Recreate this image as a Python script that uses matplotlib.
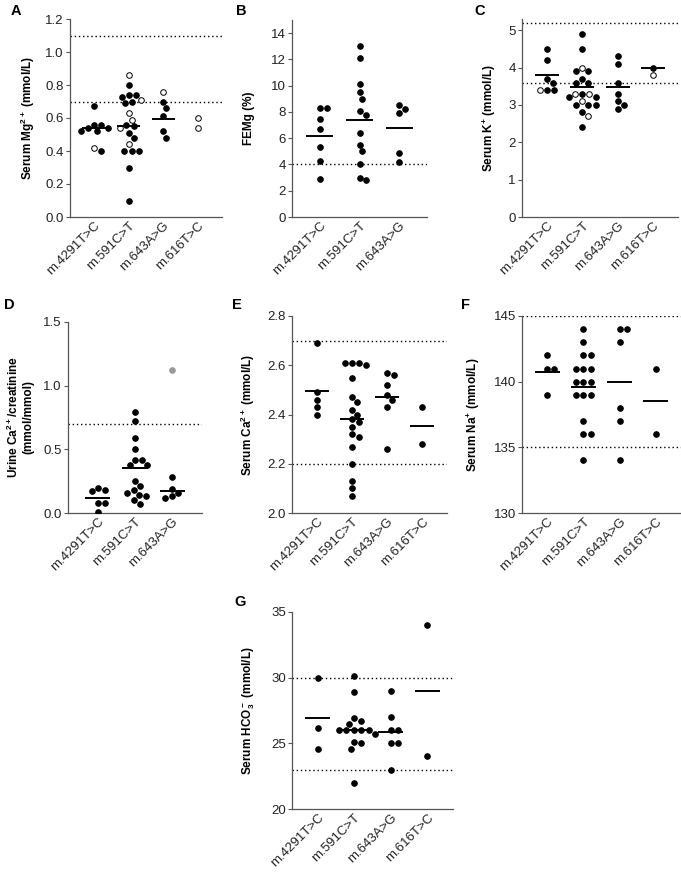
"""Dot plots of serum / urine electrolytes per mtDNA variant (panels A-G)"""
import matplotlib
matplotlib.use('Agg')
import matplotlib.pyplot as plt
import numpy as np

plt.rcParams['font.family'] = ['Liberation Sans', 'DejaVu Sans']
plt.rcParams['mathtext.fontset'] = 'custom'
plt.rcParams['mathtext.rm'] = 'Liberation Sans'
plt.rcParams['mathtext.bf'] = 'Liberation Sans:bold'
plt.rcParams['mathtext.default'] = 'bf'

# ── data ──
variants4 = ['m.4291T>C', 'm.591C>T', 'm.643A>G', 'm.616T>C']

# A: serum Mg
mg_filled = [[0.67, 0.56, 0.56, 0.54, 0.54, 0.52, 0.52, 0.40],
             [0.80, 0.74, 0.74, 0.73, 0.70, 0.69, 0.56, 0.55, 0.51, 0.48, 0.40, 0.40, 0.40, 0.30, 0.10],
             [0.70, 0.66, 0.61, 0.52, 0.48],
             []]
mg_open = [[0.42],
           [0.86, 0.71, 0.63, 0.59, 0.54, 0.44],
           [0.76],
           [0.60, 0.54]]
mg_median = [0.54, 0.55, 0.595, None]
mg_ref = [1.1, 0.7]

# B: FEMg
femg = [[8.3, 8.3, 7.5, 6.7, 5.3, 4.3, 2.9],
        [13.0, 12.1, 10.1, 9.5, 9.0, 8.1, 7.8, 6.4, 5.5, 5.0, 4.0, 3.0, 2.8],
        [8.5, 8.2, 7.9, 4.9, 4.2]]
femg_median = [6.2, 7.4, 6.75]
femg_ref = [4.0]

# C: serum K
k_filled = [[4.5, 4.2, 3.7, 3.6, 3.4, 3.4],
            [4.9, 4.5, 3.9, 3.9, 3.7, 3.6, 3.6, 3.3, 3.2, 3.2, 3.0, 3.0, 3.0, 2.8, 2.4],
            [4.3, 4.1, 3.6, 3.3, 3.1, 3.0, 2.9],
            [4.0]]
k_open = [[3.4],
          [4.0, 3.3, 3.3, 3.1, 2.7],
          [],
          [3.8]]
k_median = [3.8, 3.47, 3.47, 4.0]
k_ref = [5.2, 3.6]

# D: urine Ca/creatinine
uca_filled = [[0.20, 0.18, 0.17, 0.08, 0.08, 0.01],
              [0.79, 0.72, 0.59, 0.50, 0.42, 0.42, 0.38, 0.38, 0.25, 0.21, 0.18, 0.16, 0.14, 0.13, 0.10, 0.07],
              [0.28, 0.19, 0.16, 0.13, 0.12]]
uca_grey = [[], [], [1.12]]
uca_median = [0.12, 0.35, 0.175]
uca_ref = [0.7]

# E: serum Ca
ca = [[2.69, 2.49, 2.46, 2.43, 2.40],
      [2.61, 2.61, 2.61, 2.60, 2.55, 2.47, 2.45, 2.42, 2.40, 2.38, 2.37, 2.35, 2.32, 2.31,
       2.27, 2.20, 2.13, 2.10, 2.07],
      [2.57, 2.56, 2.52, 2.48, 2.46, 2.43, 2.26],
      [2.43, 2.28]]
ca_median = [2.495, 2.38, 2.47, 2.355]
ca_ref = [2.7, 2.2]

# F: serum Na
na = [[142, 141, 141, 139],
      [144, 143, 142, 142, 141, 141, 141, 140, 140, 140, 139, 139, 139, 137, 136, 136, 134],
      [144, 144, 143, 138, 137, 134],
      [141, 136]]
na_median = [140.75, 139.6, 140.0, 138.5]
na_ref = [145, 135]

# G: serum HCO3
hco3 = [[30.0, 26.2, 24.6],
        [30.1, 28.9, 26.9, 26.7, 26.5, 26.0, 26.0, 26.0, 26.0, 26.0, 25.7, 25.1, 25.0, 24.6, 22.0],
        [29.0, 27.0, 26.0, 26.0, 25.0, 25.0, 23.0],
        [34.0, 24.0]]
hco3_median = [26.95, 26.0, 25.85, 29.0]
hco3_ref = [30, 23]

W, H = 681, 874
fig = plt.figure(figsize=(W / 100, H / 100), dpi=100)

DOT = 5.6      # marker diameter in px
GAP = 7.2      # min centre distance in px


def make_ax(rect_px):
    l, t, r, b = rect_px
    ax = fig.add_axes([l / W, 1 - b / H, (r - l) / W, (b - t) / H])
    for s in ['top', 'right']:
        ax.spines[s].set_visible(False)
    for s in ['left', 'bottom']:
        ax.spines[s].set_color('#555555')
        ax.spines[s].set_linewidth(0.9)
    ax.tick_params(axis='y', length=3, width=0.8, color='#555555', labelsize=9.5,
                   labelcolor='#222222', pad=1.5)
    ax.tick_params(axis='x', length=0, labelsize=9.5, labelcolor='#222222', pad=2)
    return ax


def swarm(ys_px):
    """simple beeswarm: returns x offsets (px) for given y positions (px)"""
    placed = []
    offs = np.zeros(len(ys_px))
    for i in np.argsort(ys_px):
        y = ys_px[i]
        cands = [0.0]
        for px, py in placed:
            dy = y - py
            if abs(dy) < GAP:
                dx = np.sqrt(GAP ** 2 - dy ** 2)
                cands += [px + dx, px - dx]
        cands.sort(key=lambda c: (abs(c), -c))
        for c in cands:
            if all((c - px) ** 2 + (y - py) ** 2 >= GAP ** 2 - 1e-6 for px, py in placed):
                break
        offs[i] = c
        placed.append((c, y))
    return offs


def panel(rect_px, letter, groups, medians, refs, ylim, yticks, ylabel, label_x,
          xlim=None, open_groups=None, grey_groups=None, fmt='{:g}'):
    ax = make_ax(rect_px)
    n = len(groups)
    ax.set_xlim(xlim if xlim else (-0.7, n - 0.3))
    ax.set_ylim(*ylim)
    l, t, r, b = rect_px
    xppu = (r - l) / (ax.get_xlim()[1] - ax.get_xlim()[0])
    yppu = (b - t) / (ylim[1] - ylim[0])

    for ref in refs:
        ax.axhline(ref, color='black', linestyle=(0, (1, 2)), linewidth=1.0, zorder=1)

    for i in range(n):
        kinds = [('f', v) for v in groups[i]]
        if open_groups:
            kinds += [('o', v) for v in open_groups[i]]
        if grey_groups:
            kinds += [('g', v) for v in grey_groups[i]]
        if not kinds:
            continue
        vals = np.array([v for _, v in kinds])
        offs = swarm(-vals * yppu) / xppu
        for k, v, dx in zip([k for k, _ in kinds], vals, offs):
            fc = {'f': 'black', 'o': 'white', 'g': '#999999'}[k]
            ec = {'f': 'black', 'o': 'black', 'g': '#999999'}[k]
            ax.scatter(i + dx, v, s=DOT ** 2 * 0.52, facecolor=fc, edgecolor=ec,
                       linewidth=0.7, zorder=3)
        if medians[i] is not None:
            ax.plot([i - 0.34, i + 0.34], [medians[i], medians[i]], color='black',
                    linewidth=1.4, zorder=4, solid_capstyle='butt')

    ax.set_yticks(yticks)
    ax.set_yticklabels([fmt.format(v) for v in yticks])
    names = variants4[:n]
    ax.set_xticks(range(n))
    ax.set_xticklabels(names, rotation=45, ha='right', rotation_mode='anchor')
    ax.set_ylabel(ylabel, fontsize=8.5, fontweight='bold', linespacing=1.15)
    # label_x is the right edge of the rotated label, in px
    ax.yaxis.set_label_coords((label_x - l) / (r - l), 0.5)
    fig.text(letter[1] / W, 1 - letter[2] / H, letter[0], fontsize=10.5, fontweight='bold',
             ha='left', va='top')
    return ax


panel((70, 19, 222, 217), ('A', 11, 4), mg_filled, mg_median, mg_ref, (0, 1.2),
      np.arange(0, 1.21, 0.2), 'Serum Mg$^{2+}$ (mmol/L)', 37,
      open_groups=mg_open, fmt='{:.1f}')
panel((292, 20, 427, 217), ('B', 236, 4), femg, femg_median, femg_ref, (0, 15),
      np.arange(0, 15, 2), 'FEMg (%)', 255)
panel((522, 19, 678, 217), ('C', 474, 4), k_filled, k_median, k_ref, (0, 5.3),
      np.arange(0, 6, 1), 'Serum K$^{+}$ (mmol/L)', 498, open_groups=k_open)
panel((68, 322, 202, 513), ('D', 4, 298), uca_filled, uca_median, uca_ref, (0, 1.5),
      [0, 0.5, 1.0, 1.5], 'Urine Ca$^{2+}$/creatinine\n(mmol/mmol)', 34,
      xlim=(-0.8, 2.8), grey_groups=uca_grey, fmt='{:.1f}')
panel((292, 316, 447, 513), ('E', 232, 298), ca, ca_median, ca_ref, (2.0, 2.8),
      np.arange(2.0, 2.81, 0.2), 'Serum Ca$^{2+}$ (mmol/L)', 257, fmt='{:.1f}')
panel((522, 316, 681, 513), ('F', 461, 298), na, na_median, na_ref, (130, 145),
      [130, 135, 140, 145], 'Serum Na$^{+}$ (mmol/L)', 482)
panel((292, 612, 453, 809), ('G', 234, 595), hco3, hco3_median, hco3_ref, (20, 35),
      [20, 25, 30, 35], 'Serum HCO$_3^-$ (mmol/L)', 257)

fig.savefig('out.png', dpi=100, facecolor='white')
